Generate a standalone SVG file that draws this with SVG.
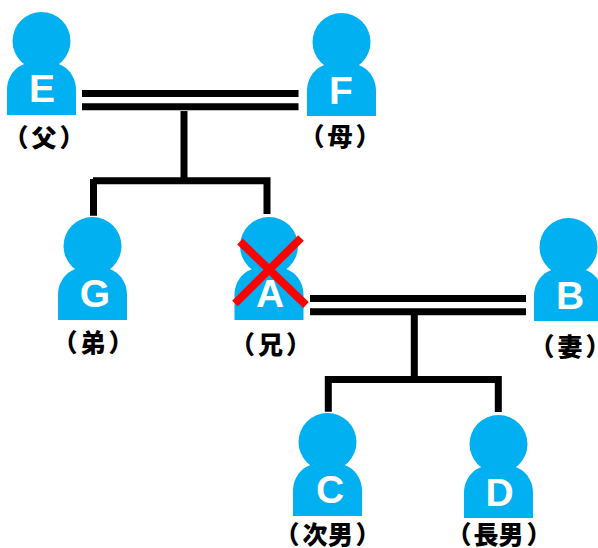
<svg xmlns="http://www.w3.org/2000/svg" width="598" height="548" viewBox="0 0 598 548">
<style>
.b{fill:#00b0f0}
.l{font-family:"Liberation Sans",Arial,sans-serif;font-weight:700;font-size:39px;fill:#fff;text-anchor:middle}
.t{font-family:"Noto Sans CJK JP",sans-serif;font-weight:900;font-size:25px;fill:#000}
.c{stroke:#000;stroke-width:7;fill:none}
.x{stroke:#f00;stroke-width:8;fill:none}
</style>
<defs>
<g id="p">
<circle class="b" cx="34.500" cy="29" r="29"/>
<path class="b" d="M0 103V78C0 62 12 51 24 51H45C57 51 69 62 69 78V103Z"/>
</g>
</defs>
<g id="connectors">
<path class="c" d="M82 93.500H298.500M82 106.800H298.500M184 111V181M93.500 179V215.700M93 180.700H270M267 177.300V214"/>
<path class="c" d="M310 298.500H526M310 311.700H526M414.300 315V380M328.300 411.700V379.400H498.300V412"/>
</g>
<g id="E"><use href="#p" x="7" y="12"/><text class="l" x="42" y="102">E</text><text class="t" x="3.500 31.500 59.500" y="147">（父）</text></g>
<g id="F"><use href="#p" x="307" y="13"/><text class="l" x="341" y="104">F</text><text class="t" x="299.500 327.500 355.500" y="146">（母）</text></g>
<g id="G"><use href="#p" x="58" y="217"/><text class="l" x="95" y="307">G</text><text class="t" x="52.500 80.500 108.500" y="352">（弟）</text></g>
<g id="A"><use href="#p" x="234.500" y="217"/><text class="l" x="270" y="307">A</text><text class="t" x="230 258 286" y="354">（兄）</text>
<path class="x" d="M235 303.500L301 238M240 241.500L306 305"/></g>
<g id="B"><use href="#p" x="534" y="218"/><text class="l" x="570" y="308.500">B</text><text class="t" x="529.500 557.500 585.500" y="356">（妻）</text></g>
<g id="C"><use href="#p" x="293" y="413"/><text class="l" x="330" y="503">C</text><text class="t" x="274.500 302.500 328 355.500" y="544">（次男）</text></g>
<g id="D"><use href="#p" x="464" y="415"/><text class="l" x="499.500" y="505.500">D</text><text class="t" x="446.500 473.500 498.500 526.500" y="544">（長男）</text></g>
</svg>
